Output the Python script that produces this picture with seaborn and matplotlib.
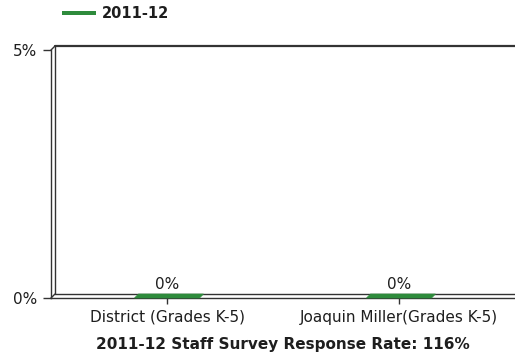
import matplotlib
matplotlib.use("Agg")
import matplotlib.pyplot as plt
import matplotlib.transforms as mtransforms
from matplotlib.lines import Line2D
from matplotlib.patches import Polygon
import seaborn as sns
import pandas as pd

categories = ["District (Grades K-5)", "Joaquin Miller(Grades K-5)"]
values = [0, 0]
series_name = "2011-12"
y_ticks = [0, 5]
y_tick_labels = ["0%", "5%"]
title = "2011-12 Staff Survey Response Rate: 116%"

GREEN = "#2e8b3c"
FRAME = "#333333"
TEXT = "#1e1e1e"
W, H, DPI = 515, 359, 100
DEPTH = 4  # px offset of the back wall
PX = 72 / DPI  # one pixel in points
FS = 11

sns.set_theme(style="white")
plt.rcParams["font.family"] = ["DejaVu Sans"]

fig = plt.figure(figsize=(W / DPI, H / DPI), dpi=DPI)
ax = fig.add_axes([51 / W, (H - 298) / H, (W - 51) / W, 248 / H])

df = pd.DataFrame({"category": categories, "value": values})
sns.barplot(data=df, x="category", y="value", color=GREEN, width=0.28, ax=ax)

ax.set_xlim(-0.5, 1.5)
ax.set_ylim(0, 5)
ax.set_yticks(y_ticks)
ax.set_yticklabels(y_tick_labels, fontsize=FS, color=TEXT)
ax.set_xticks(range(len(categories)))
ax.set_xticklabels(categories, fontsize=FS, color=TEXT)
ax.set_xlabel(title, fontsize=FS, fontweight="bold", color=TEXT, labelpad=12 * PX)
ax.set_ylabel("")
ax.tick_params(axis="y", length=8 * PX, width=1, color=FRAME, pad=6 * PX, left=True)
ax.tick_params(axis="x", length=6 * PX, width=1, color=FRAME, pad=6 * PX, bottom=True)

for side in ["top", "right"]:
    ax.spines[side].set_visible(False)
for side in ["left", "bottom"]:
    ax.spines[side].set_color(FRAME)
    ax.spines[side].set_linewidth(1)

# back wall, shifted up and right by DEPTH pixels
shift = ax.transAxes + mtransforms.ScaledTranslation(DEPTH / DPI, DEPTH / DPI, fig.dpi_scale_trans)
ax.add_line(Line2D([0, 0], [0, 1], transform=shift, color=FRAME, lw=1, clip_on=False))
ax.add_line(Line2D([0, 1], [1, 1], transform=shift, color=FRAME, lw=1.6, clip_on=False))
ax.add_line(Line2D([0, 1], [0, 0], transform=shift, color=FRAME, lw=1, clip_on=False))
# corner connectors
inv = fig.transFigure.inverted()
for yy in (0, 1):
    p0 = ax.transAxes.transform((0, yy))
    a = inv.transform(p0)
    b = inv.transform(p0 + [DEPTH, DEPTH])
    fig.add_artist(Line2D([a[0], b[0]], [a[1], b[1]], color=FRAME, lw=1))

# top faces of the bars on the floor
inv_data = ax.transData.inverted()
for patch, v in zip(ax.patches, values):
    x0, w = patch.get_x(), patch.get_width()
    f0 = ax.transData.transform((x0, v))
    f1 = ax.transData.transform((x0 + w, v))
    pts = [f0, f1, f1 + [DEPTH, DEPTH], f0 + [DEPTH, DEPTH]]
    poly = Polygon(inv_data.transform(pts), closed=True, facecolor=GREEN,
                   edgecolor=GREEN, lw=0.5, clip_on=False, zorder=5)
    ax.add_patch(poly)
    ax.annotate(f"{v:g}%", (x0 + w / 2, v), xytext=(0, 6 * PX), textcoords="offset points",
                ha="center", va="bottom", fontsize=FS, color=TEXT)

handle = Line2D([], [], color=GREEN, lw=4 * PX, solid_capstyle="butt")
fig.legend([handle], [series_name], loc="upper left", bbox_to_anchor=(62 / W, 1 - 6 / H),
           frameon=False, borderpad=0, borderaxespad=0, handlelength=2.3, handletextpad=0.45,
           prop={"size": FS - 0.5, "weight": "bold"}, labelcolor=TEXT)

fig.savefig("out.png", dpi=DPI)
